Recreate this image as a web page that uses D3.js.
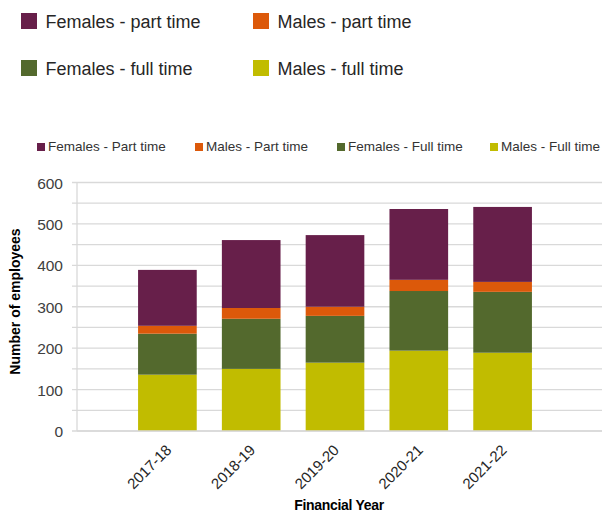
<!DOCTYPE html>
<html>
<head>
<meta charset="utf-8">
<script src="https://cdn.jsdelivr.net/npm/d3@7"></script>
<style>
  html, body { margin: 0; padding: 0; background: #fff; }
  svg { display: block; }
</style>
</head>
<body>
<svg id="chart" width="604" height="513"></svg>
<script>
// ---- data ----
const years = ["2017-18", "2018-19", "2019-20", "2020-21", "2021-22"];
const malesFullTime   = [136, 150, 165, 194, 189];
const femalesFullTime = [99, 121, 113, 144, 147];
const malesPartTime   = [19, 26, 22, 27, 24];
const femalesPartTime = [135, 164, 173, 171, 181];

const seriesKeys = ["malesFull", "femalesFull", "malesPart", "femalesPart"];
const chartLegendLabels = ["Males - Full time", "Females - Full time", "Males - Part time", "Females - Part time"];
const topLegendLabels   = ["Males - full time", "Females - full time", "Males - part time", "Females - part time"];
const seriesColors = ["#C1BC00", "#53692D", "#DC590A", "#671F4A"];
const yTicks = [0, 100, 200, 300, 400, 500, 600];
const yGrid  = [0, 50, 100, 150, 200, 250, 300, 350, 400, 450, 500, 550, 600];

const table = years.map((y, i) => ({
  year: y,
  malesFull: malesFullTime[i],
  femalesFull: femalesFullTime[i],
  malesPart: malesPartTime[i],
  femalesPart: femalesPartTime[i]
}));

const svg = d3.select("#chart");
const FONT = "'Liberation Sans', Arial, sans-serif";

// ---- scales ----
const x = d3.scaleBand().domain(years).range([125.5, 544.5]).paddingInner(0.3).paddingOuter(0.15);
const y = d3.scaleLinear().domain([0, 600]).range([431, 182.5]);
const color = d3.scaleOrdinal().domain(seriesKeys).range(seriesColors);

const plotLeft = 77, plotRight = 602;

// ---- gridlines ----
svg.append("g").selectAll("line").data(yGrid).join("line")
  .attr("x1", plotLeft - 5).attr("x2", plotRight)
  .attr("y1", d => y(d)).attr("y2", d => y(d))
  .attr("stroke", "#d9d9d9").attr("stroke-width", 1.3);

// y axis line
svg.append("line")
  .attr("x1", plotLeft).attr("x2", plotLeft)
  .attr("y1", y(600)).attr("y2", y(0))
  .attr("stroke", "#d9d9d9").attr("stroke-width", 1.3);

// ---- y tick labels ----
const yAxis = d3.axisLeft(y).tickValues(yTicks).tickSize(0).tickPadding(0);
const yAxisG = svg.append("g").attr("transform", `translate(${plotLeft - 14},0)`).call(yAxis);
yAxisG.select(".domain").remove();
yAxisG.selectAll("text")
  .attr("font-family", FONT).attr("font-size", 15.5).attr("fill", "#404040")
  .attr("dy", "0.36em");

// ---- bars ----
const stacked = d3.stack().keys(seriesKeys)(table);
svg.append("g").selectAll("g").data(stacked).join("g")
  .attr("fill", d => color(d.key))
  .selectAll("rect").data(d => d).join("rect")
  .attr("x", d => x(d.data.year))
  .attr("width", x.bandwidth())
  .attr("y", d => y(d[1]))
  .attr("height", d => y(d[0]) - y(d[1]));

// x axis line
svg.append("line")
  .attr("x1", plotLeft).attr("x2", plotRight)
  .attr("y1", y(0)).attr("y2", y(0))
  .attr("stroke", "#d9d9d9").attr("stroke-width", 1.3);

// ---- x tick labels ----
const xAxis = d3.axisBottom(x).tickSize(0).tickPadding(0);
const xAxisG = svg.append("g").attr("transform", "translate(0,0)").call(xAxis);
xAxisG.select(".domain").remove();
xAxisG.selectAll(".tick").attr("transform", d => `translate(${x(d) + x.bandwidth() / 2 + 5},451)`);
xAxisG.selectAll("text")
  .attr("font-family", FONT).attr("font-size", 15).attr("fill", "#262626")
  .attr("text-anchor", "end").attr("dy", 0).attr("y", 0)
  .attr("transform", "rotate(-45)");

// ---- axis titles ----
svg.append("text")
  .attr("transform", "translate(20,301.5) rotate(-90)")
  .attr("text-anchor", "middle")
  .attr("font-family", FONT).attr("font-weight", "bold").attr("font-size", 14)
  .attr("fill", "#000")
  .text("Number of employees");

svg.append("text")
  .attr("x", 339).attr("y", 510)
  .attr("text-anchor", "middle")
  .attr("font-family", FONT).attr("font-weight", "bold").attr("font-size", 14)
  .attr("letter-spacing", "-0.3")
  .attr("fill", "#000")
  .text("Financial Year");

// ---- chart legend (small) ----
const smallOrder = [3, 2, 1, 0];
const smallX = [37, 195, 337, 490];
const smallLeg = svg.append("g");
smallOrder.forEach((si, k) => {
  smallLeg.append("rect")
    .attr("x", smallX[k]).attr("y", 143).attr("width", 8).attr("height", 8)
    .attr("fill", seriesColors[si]);
  smallLeg.append("text")
    .attr("x", smallX[k] + 11).attr("y", 151.3)
    .attr("font-family", FONT).attr("font-size", 13.5).attr("fill", "#333")
    .text(chartLegendLabels[si]);
});

// ---- top legend (large) ----
const topOrder = [3, 2, 1, 0];
const topPos = [[21, 13], [253, 13], [21, 60], [253, 60]];
const topLeg = svg.append("g");
topOrder.forEach((si, k) => {
  const [px, py] = topPos[k];
  topLeg.append("rect")
    .attr("x", px).attr("y", py).attr("width", 16).attr("height", 16)
    .attr("fill", seriesColors[si]);
  topLeg.append("text")
    .attr("x", px + 24.5).attr("y", py + 14.7)
    .attr("font-family", FONT).attr("font-size", 18).attr("fill", "#262626")
    .text(topLegendLabels[si]);
});
</script>
</body>
</html>
